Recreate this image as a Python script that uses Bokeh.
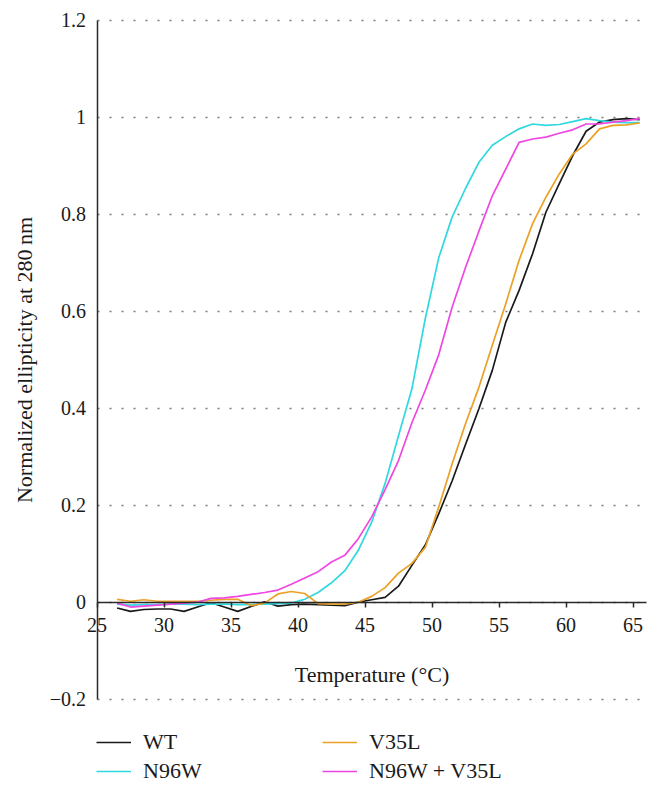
from bokeh.plotting import figure
from bokeh.models import Legend, LegendItem, FixedTicker, Range1d
from bokeh.embed import file_html
from bokeh.resources import INLINE

# ---------------- data ----------------
temperature = [26.5, 27.5, 28.5, 29.5, 30.5, 31.5, 32.5, 33.5, 34.5, 35.5,
               36.5, 37.5, 38.5, 39.5, 40.5, 41.5, 42.5, 43.5, 44.5, 45.5,
               46.5, 47.5, 48.5, 49.5, 50.5, 51.5, 52.5, 53.5, 54.5, 55.5,
               56.5, 57.5, 58.5, 59.5, 60.5, 61.5, 62.5, 63.5, 64.5, 65.5]

wt = [-0.012, -0.019, -0.015, -0.014, -0.014, -0.019, -0.010, -0.001, -0.010, -0.019,
      -0.009, 0.001, -0.008, -0.005, -0.004, -0.005, -0.006, -0.007, 0.000, 0.005,
      0.010, 0.033, 0.076, 0.118, 0.182, 0.250, 0.325, 0.399, 0.478, 0.577,
      0.643, 0.718, 0.804, 0.863, 0.921, 0.971, 0.990, 0.995, 0.997, 0.995]

n96w = [-0.004, -0.006, -0.005, -0.005, -0.004, -0.004, -0.005, -0.004, -0.004, -0.005,
        -0.005, -0.004, -0.003, -0.002, 0.006, 0.020, 0.040, 0.065, 0.107, 0.165,
        0.245, 0.343, 0.440, 0.585, 0.710, 0.794, 0.853, 0.907, 0.942, 0.960,
        0.976, 0.986, 0.983, 0.985, 0.991, 0.997, 0.993, 0.990, 0.989, 0.989]

v35l = [0.006, 0.002, 0.005, 0.002, 0.002, 0.002, 0.002, 0.004, 0.006, 0.006,
        -0.007, -0.002, 0.017, 0.022, 0.018, -0.003, -0.004, -0.004, 0.000, 0.012,
        0.030, 0.060, 0.080, 0.113, 0.196, 0.285, 0.368, 0.443, 0.530, 0.615,
        0.705, 0.780, 0.835, 0.883, 0.924, 0.945, 0.976, 0.983, 0.984, 0.988]

n96w_v35l = [-0.002, -0.010, -0.008, -0.006, -0.004, -0.002, 0.000, 0.008, 0.009, 0.012,
             0.016, 0.020, 0.025, 0.037, 0.050, 0.063, 0.083, 0.097, 0.131, 0.176,
             0.232, 0.292, 0.370, 0.437, 0.510, 0.608, 0.690, 0.765, 0.838, 0.893,
             0.948, 0.955, 0.959, 0.967, 0.974, 0.986, 0.986, 0.990, 0.993, 0.997]

series_names = ["WT", "N96W", "V35L", "N96W + V35L"]
series_colors = ["#1a1a1a", "#30d8e0", "#eba126", "#f046e2"]

x_ticks = [25, 30, 35, 40, 45, 50, 55, 60, 65]
x_bounds = (25, 66)
y_ticks = [-0.2, 0, 0.2, 0.4, 0.6, 0.8, 1, 1.2]
y_tick_labels = ["\u22120.2", "0", "0.2", "0.4", "0.6", "0.8", "1", "1.2"]
y_bounds = (-0.2, 1.2)

FONT = "Liberation Serif"

# ---------------- figure ----------------
# The frame fills the whole canvas so that axes drawn at fixed locations,
# their labels and the legend below are not clipped.
W, H = 660, 798
X0_PX, XSCALE = 96.5, 13.4      # pixel of x=25, pixels per degree
Y0_PX, YSCALE = 601.7, 485.0    # pixel of y=0, pixels per unit
x_lo = x_bounds[0] - X0_PX / XSCALE
x_hi = x_bounds[0] + (W - X0_PX) / XSCALE
y_hi = Y0_PX / YSCALE
y_lo = -(H - Y0_PX) / YSCALE

p = figure(width=W, height=H, output_backend="svg", toolbar_location=None,
           x_range=Range1d(x_lo, x_hi), y_range=Range1d(y_lo, y_hi),
           min_border=0, min_border_left=0, min_border_right=0,
           min_border_top=0, min_border_bottom=0)
p.outline_line_color = None
p.background_fill_color = "white"
p.border_fill_color = "white"

# grid (dotted horizontal lines between the axis and the right edge)
p.xgrid.visible = False
g = p.ygrid[0]
if "cross_bounds" in g.properties():
    g.ticker = FixedTicker(ticks=y_ticks)
    g.bounds = y_bounds
    g.cross_bounds = x_bounds
    g.grid_line_color = "#7a7a7a"
    g.grid_line_width = 1.4
    g.grid_line_dash = "2 10"
else:
    g.visible = False
    p.segment(x0=[x_bounds[0]] * len(y_ticks), x1=[x_bounds[1]] * len(y_ticks),
              y0=y_ticks, y1=y_ticks, line_color="#7a7a7a", line_width=1.4,
              line_dash="2 10")

renderers = []
for ys, color in zip([wt, n96w, v35l, n96w_v35l], series_colors):
    r = p.line(temperature, ys, line_color=color, line_width=1.7)
    renderers.append(r)

# x axis (crosses at y = 0)
xa = p.xaxis[0]
xa.fixed_location = 0
xa.bounds = x_bounds
xa.ticker = FixedTicker(ticks=x_ticks)
xa.axis_line_color = "#2a2a2a"
xa.axis_line_width = 1.5
xa.major_tick_line_color = "#2a2a2a"
xa.major_tick_line_width = 1.5
xa.major_tick_out = 5
xa.major_tick_in = 0
xa.minor_tick_line_color = None
xa.major_label_text_font = FONT
xa.major_label_text_font_size = "20px"
xa.major_label_text_color = "#1a1a1a"
xa.major_label_standoff = 11
xa.axis_label = "Temperature (\u00b0C)"
xa.axis_label_text_font = FONT
xa.axis_label_text_font_size = "22px"
xa.axis_label_text_font_style = "normal"
xa.axis_label_text_color = "#1a1a1a"
xa.axis_label_standoff = 26

# y axis (at x = 25)
ya = p.yaxis[0]
ya.fixed_location = x_bounds[0]
ya.bounds = y_bounds
ya.ticker = FixedTicker(ticks=y_ticks)
ya.major_label_overrides = dict(zip(y_ticks, y_tick_labels))
ya.axis_line_color = "#2a2a2a"
ya.axis_line_width = 1.5
ya.major_tick_line_color = None
ya.major_tick_out = 0
ya.major_tick_in = 0
ya.minor_tick_line_color = None
ya.major_label_text_font = FONT
ya.major_label_text_font_size = "20px"
ya.major_label_text_color = "#1a1a1a"
ya.major_label_standoff = 11
ya.axis_label = "Normalized ellipticity at 280\u2009nm"
ya.axis_label_text_font = FONT
ya.axis_label_text_font_size = "22px"
ya.axis_label_text_font_style = "normal"
ya.axis_label_text_color = "#1a1a1a"
ya.axis_label_standoff = 10

# legends (two columns below the plot area)
def make_legend(idx, loc):
    leg = Legend(items=[LegendItem(label=series_names[i], renderers=[renderers[i]]) for i in idx],
                 location=loc, orientation="vertical")
    leg.background_fill_alpha = 0
    leg.border_line_alpha = 0
    leg.padding = 0
    leg.margin = 0
    leg.spacing = 3
    leg.glyph_width = 35
    leg.glyph_height = 20
    leg.label_height = 20
    leg.label_standoff = 12
    leg.label_text_font = FONT
    leg.label_text_font_size = "22px"
    leg.label_text_color = "#1a1a1a"
    return leg

p.add_layout(make_legend([0, 1], (96, 14)))
p.add_layout(make_legend([2, 3], (322, 14)))

open("out.html", "w").write(file_html(p, INLINE))
